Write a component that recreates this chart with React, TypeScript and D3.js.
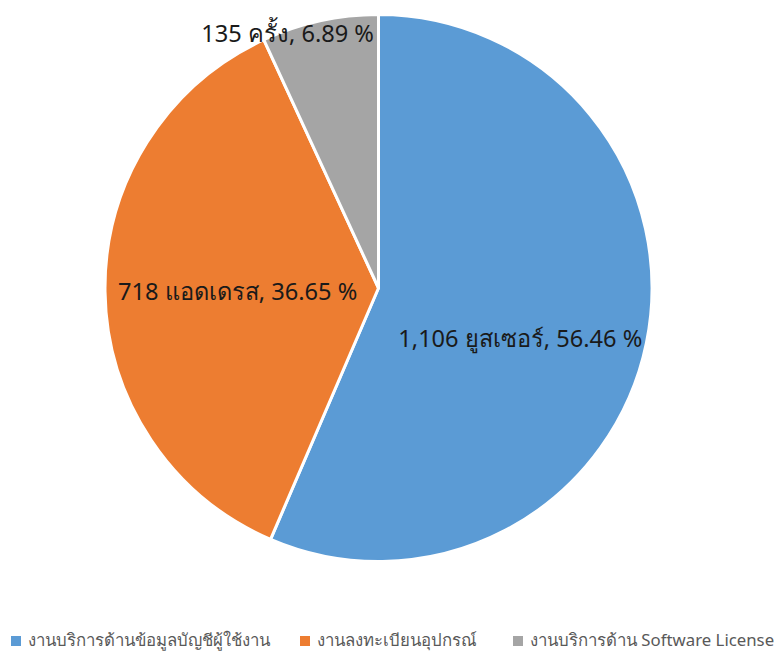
import React, { useEffect, useRef } from "react";
import * as d3 from "d3";

const categories = [
  "งานบริการด้านข้อมูลบัญชีผู้ใช้งาน",
  "งานลงทะเบียนอุปกรณ์",
  "งานบริการด้าน Software License",
];
const values = [1106, 718, 135];
const units = ["ยูสเซอร์", "แอดเดรส", "ครั้ง"];
const percents = ["56.46", "36.65", "6.89"];
const colors = ["#5B9BD5", "#ED7D31", "#A5A5A5"];

const W = 782;
const H = 651;

const PieChart = () => {
  const svgRef = useRef<SVGSVGElement>(null);

  useEffect(() => {
    if (!svgRef.current) return;
    const svg = d3.select(svgRef.current);
    svg.selectAll("*").remove();

    const cx = 378.5;
    const cy = 288;
    const r = 273.5;
    const font = "'Noto Sans', Tahoma, 'DejaVu Sans', sans-serif";

    const pie = d3.pie<number>().sort(null).value((d) => d);
    const arcs = pie(values);
    const arc = d3.arc<d3.PieArcDatum<number>>().innerRadius(0).outerRadius(r);

    const g = svg.append("g").attr("transform", `translate(${cx},${cy})`);

    g.selectAll("path")
      .data(arcs)
      .enter()
      .append("path")
      .attr("d", arc)
      .attr("fill", (_, i) => colors[i])
      .attr("stroke", "#fff")
      .attr("stroke-width", 3)
      .attr("stroke-linejoin", "round");

    // best-fit style label spots: angle offset (deg) from slice middle and radius fraction
    const labelPlace = [
      { da: 7.9, k: 0.55 },
      { da: -0.5, k: 0.515 },
      { da: -7.2, k: 0.99 },
    ];

    g.selectAll("text.lbl")
      .data(arcs)
      .enter()
      .append("text")
      .attr("class", "lbl")
      .attr("transform", (d, i) => {
        const mid = (d.startAngle + d.endAngle) / 2 + (labelPlace[i].da * Math.PI) / 180;
        const rr = r * labelPlace[i].k;
        return `translate(${rr * Math.sin(mid)},${-rr * Math.cos(mid)})`;
      })
      .attr("text-anchor", "middle")
      .attr("dominant-baseline", "central")
      .style("font-family", font)
      .style("font-size", "23.6px")
      .style("fill", "#1a1a1a")
      .text((d, i) => `${d3.format(",")(d.value)} ${units[i]}, ${percents[i]} %`);

    // Legend
    const legendX = [11, 300, 513];
    const legend = svg
      .append("g")
      .selectAll("g")
      .data(categories)
      .enter()
      .append("g")
      .attr("transform", (_, i) => `translate(${legendX[i]},636)`);

    legend
      .append("rect")
      .attr("width", 10)
      .attr("height", 10)
      .attr("fill", (_, i) => colors[i]);

    legend
      .append("text")
      .attr("x", 17)
      .attr("y", 10)
      .style("font-family", font)
      .style("font-size", "16.8px")
      .style("fill", "#595959")
      .text((d) => d);
  }, []);

  return (
    <div style={{ position: "absolute", left: 0, top: 0 }}>
      <svg ref={svgRef} width={W} height={H} style={{ display: "block", background: "#fff" }} />
    </div>
  );
};

export default function App() {
  return <PieChart />;
}
